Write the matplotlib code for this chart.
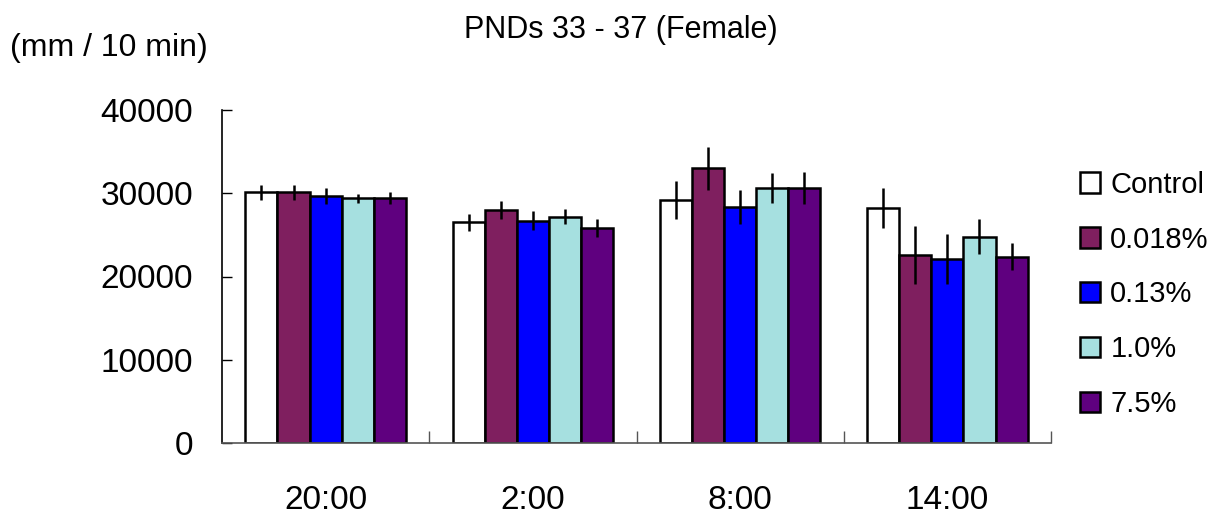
import matplotlib
matplotlib.use("Agg")
import matplotlib.pyplot as plt
import numpy as np

plt.rcParams['font.family'] = ['Liberation Sans', 'DejaVu Sans']

times = ["20:00", "2:00", "8:00", "14:00"]
groups = ["Control", "0.018%", "0.13%", "1.0%", "7.5%"]
colors = ["#FFFFFF", "#7F1F5F", "#0000FF", "#A6E0E0", "#5F007F"]

# mean distance (mm/10 min), one list per group, in the order of times
control = [30100, 26500, 29200, 28200]
dose_0018 = [30100, 28000, 33000, 22600]
dose_013 = [29700, 26700, 28400, 22100]
dose_10 = [29400, 27200, 30600, 24800]
dose_75 = [29400, 25800, 30600, 22400]

# error bars (SE)
control_err = [900, 1050, 2250, 2400]
dose_0018_err = [950, 1050, 2600, 3450]
dose_013_err = [950, 1150, 2050, 2950]
dose_10_err = [550, 900, 1800, 2150]
dose_75_err = [700, 1050, 1900, 1650]

means = [control, dose_0018, dose_013, dose_10, dose_75]
errs = [control_err, dose_0018_err, dose_013_err, dose_10_err, dose_75_err]

fig = plt.figure(figsize=(12.25, 5.2), dpi=100)
ax = fig.add_axes([222/1225, 1-443/520, (1051-222)/1225, (443-110)/520])

x = np.arange(len(times))
width = 0.155
for i in range(len(groups)):
    ax.bar(x + (i-2)*width, means[i], width, color=colors[i], edgecolor="black",
           linewidth=1.8, label=groups[i], zorder=2)
    ax.errorbar(x + (i-2)*width, means[i], yerr=errs[i], fmt="none", ecolor="black",
                elinewidth=1.8, capsize=0, zorder=3)

ax.set_xlim(-0.5, 3.5)
ax.set_ylim(0, 40000)
ax.set_yticks([0, 10000, 20000, 30000, 40000])
ax.set_xticks([0.5, 1.5, 2.5, 3.5])
ax.set_xticklabels([])
ax.set_xticks(x, minor=True)
ax.set_xticklabels(times, minor=True)
ax.tick_params(axis="x", which="major", direction="in", length=9, width=1, color="#555555")
ax.tick_params(axis="x", which="minor", length=0, pad=30, labelsize=24)
ax.tick_params(axis="y", direction="in", length=7, width=1, pad=21, labelsize=24)

ax.spines["top"].set_visible(False)
ax.spines["right"].set_visible(False)
ax.spines["bottom"].set_color("#555555")
ax.spines["bottom"].set_linewidth(1.2)
ax.spines["left"].set_linewidth(1.2)

fig.text(621/1225, 1-30/520, "PNDs 33 - 37 (Female)", ha="center", va="center", fontsize=22)
fig.text(10/1225, 1-48/520, "(mm / 10 min)", ha="left", va="center", fontsize=23)

fig.legend(loc="upper left", bbox_to_anchor=(1068/1225, 1-159/520), frameon=False,
           fontsize=21, handlelength=0.7, handleheight=0.7, handletextpad=0.35,
           labelspacing=0.92, borderaxespad=0)

fig.savefig("out.png", dpi=100)
